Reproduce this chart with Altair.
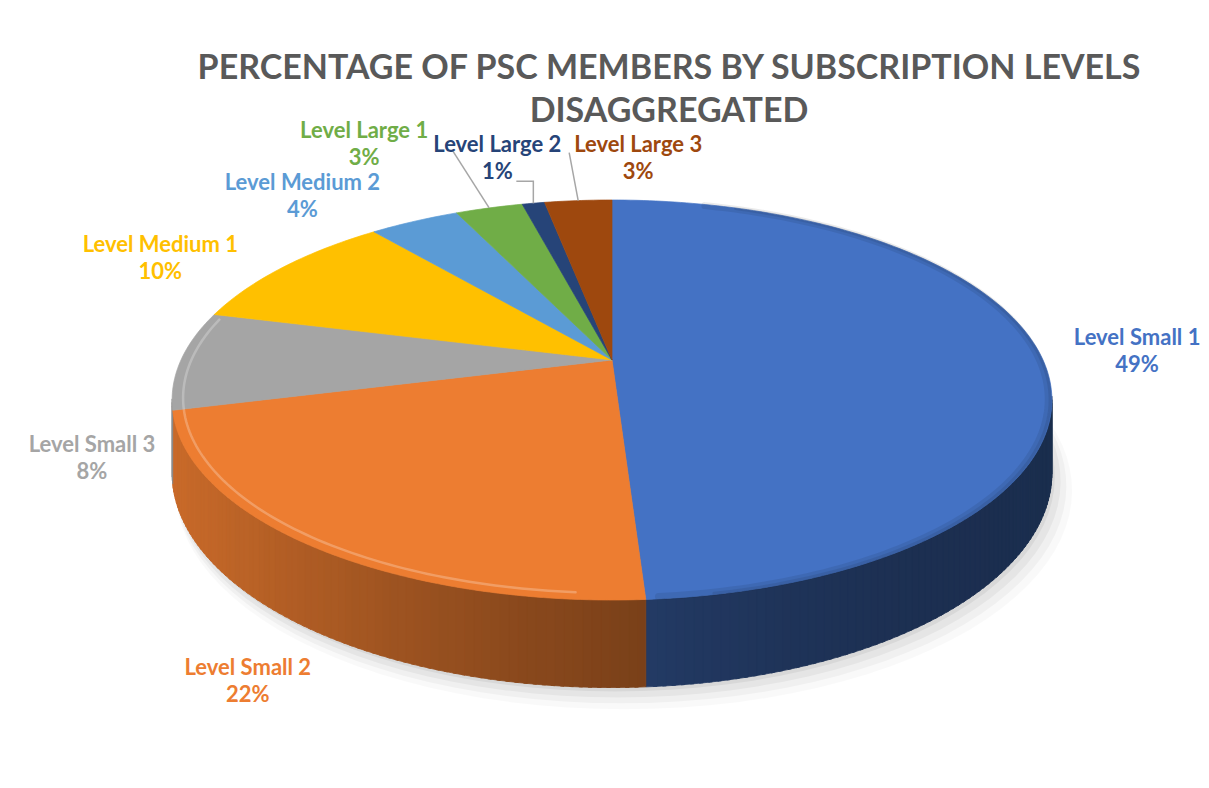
import altair as alt
import pandas as pd

# ---------------- data ----------------
categories = ["Level Small 1", "Level Small 2", "Level Small 3", "Level Medium 1",
              "Level Medium 2", "Level Large 1", "Level Large 2", "Level Large 3"]
percentages = [49, 22, 8, 10, 4, 3, 1, 3]
title_lines = ["PERCENTAGE OF PSC MEMBERS BY SUBSCRIPTION LEVELS", "DISAGGREGATED"]

# ---------------- styles / layout ----------------
palette = ["#4472C4", "#ED7D31", "#A5A5A5", "#FFC000",
           "#5B9BD5", "#70AD47", "#264478", "#9E480E"]
FONT = "Lato"
W, H = 1193, 772            # plot area = whole page area
CX, CY = 612, 360           # apex of the pie (screen px)
A, B, C = 431, 192, 0.2     # perspective ellipse parameters
D0 = 70                     # thickness of the pie
XL, XW = 172, 880           # horizontal extent used for side shading
NB = 90                     # number of shade steps

# label centre offsets from the rim point at the slice's mid angle
label_layout = {
    "Level Small 1": (97, -2),
    "Level Small 2": (-62, 137),
    "Level Small 3": (-89, 99),
    "Level Medium 1": (-123, -8),
    "Level Medium 2": (-112, -24),
    "Level Large 1": (-125, -63),
    "Level Large 2": (-36, -44),
    "Level Large 3": (60, -42),
}
# leader line end (offset from label centre), elbow flag
leader_layout = {
    "Level Large 1": (88, 5, 0),
    "Level Large 2": (19, 22, 1),
    "Level Large 3": (-69, -6, 0),
}

df = pd.DataFrame({"category": categories, "value": percentages,
                   "order": list(range(len(categories)))})
cats = list(label_layout)
layout_df = pd.DataFrame({
    "category": cats,
    "ldx": [label_layout[c][0] for c in cats],
    "ldy": [label_layout[c][1] for c in cats],
    "has_leader": [1 if c in leader_layout else 0 for c in cats],
    "edx": [leader_layout.get(c, (0, 0, 0))[0] for c in cats],
    "edy": [leader_layout.get(c, (0, 0, 0))[1] for c in cats],
    "elbow": [leader_layout.get(c, (0, 0, 0))[2] for c in cats],
})
title_df = pd.DataFrame({"line": title_lines, "row": list(range(len(title_lines)))})


def shade(hexc, f):
    r, g, b = int(hexc[1:3], 16), int(hexc[3:5], 16), int(hexc[5:7], 16)
    return "#%02x%02x%02x" % (round(r * f), round(g * f), round(b * f))


side_domain = [f"{c}|{b}" for c in categories for b in range(NB + 1)]
side_range = [shade(col, 0.40 + 0.45 * (1 - b / NB) ** 1.8)
              for col in palette for b in range(NB + 1)]

cat_scale = alt.Scale(domain=categories, range=palette)
side_scale = alt.Scale(domain=side_domain, range=side_range)
xs = alt.Scale(domain=[8, 8 + W], nice=False, zero=False)
ys = alt.Scale(domain=[8 + H, 8], nice=False, zero=False)


def X(f):
    return alt.X(f, type="quantitative", scale=xs, axis=None)


def Y(f):
    return alt.Y(f, type="quantitative", scale=ys, axis=None)


def ex_x(ang, r=1.0):
    return f"({CX} + {A}*{r}*sin({ang})/(1 + {C}*{r}*cos({ang})))"


def ex_y(ang, r=1.0):
    return f"({CY} - {B}*{r}*cos({ang})/(1 + {C}*{r}*cos({ang})))"


def ex_d(ang, r=1.0):
    return f"({D0}/(1 + {C}*{r}*cos({ang})))"


def base():
    return (alt.Chart(df)
            .transform_window(cum="sum(value)", sort=[alt.SortField("order")], frame=[None, 0])
            .transform_joinaggregate(total="sum(value)")
            .transform_calculate(a0="2*PI*(datum.cum - datum.value)/datum.total")
            .transform_calculate(a1="2*PI*datum.cum/datum.total")
            .transform_calculate(n="max(2, ceil(360*datum.value/datum.total))"))


# ---------------- shadow ----------------
def shadow(r, ox, oy, op):
    return (alt.Chart(alt.sequence(0, 361, 3, as_="t"))
            .transform_calculate(ang="datum.t*PI/180")
            .transform_calculate(px=f"{ex_x('datum.ang', r)} + {ox}",
                                 py=f"{ex_y('datum.ang', r)} + {ex_d('datum.ang', r)} + {oy}")
            .mark_line(interpolate="linear-closed", fill="black", fillOpacity=op, strokeWidth=0)
            .encode(x=X("px"), y=Y("py"), order=alt.Order("t:Q")))


shadows = [shadow(1.0, 3, 4, 0.05), shadow(1.006, 6, 8, 0.045),
           shadow(1.012, 9, 12, 0.035), shadow(1.018, 12, 16, 0.025)]

# ---------------- side walls ----------------
side = (base()
        .transform_calculate(j="sequence(0, datum.n)")
        .transform_flatten(["j"])
        .transform_calculate(step="(datum.a1 - datum.a0)/datum.n")
        .transform_calculate(mid="datum.a0 + datum.step*(datum.j + 0.5)")
        .transform_filter(f"cos(datum.mid) < {-C + 0.01}")
        .transform_calculate(q="[0, 1, 2, 3]")
        .transform_flatten(["q"])
        .transform_calculate(ang="clamp(datum.a0 + datum.step*(datum.j + ((datum.q == 1 || datum.q == 2) ? 1.2 : -0.2)), datum.a0, datum.a1)")
        .transform_calculate(px=ex_x("datum.ang"), ytop=ex_y("datum.ang"), dep=ex_d("datum.ang"))
        .transform_calculate(py="datum.q >= 2 ? datum.ytop + datum.dep : datum.ytop")
        .transform_calculate(tx=f"clamp(({ex_x('datum.mid')} - {XL})/{XW}, 0, 1)")
        .transform_calculate(key=f"datum.category + '|' + round(datum.tx*{NB})")
        .transform_calculate(seg="datum.category + '#' + datum.j")
        .mark_line(interpolate="linear-closed", strokeWidth=0.8)
        .encode(x=X("px"), y=Y("py"), order=alt.Order("q:Q"), detail="seg:N",
                fill=alt.Fill("key:N", scale=side_scale, legend=None),
                stroke=alt.Stroke("key:N", scale=side_scale, legend=None)))

# ---------------- top faces ----------------
top = (base()
       .transform_calculate(k="sequence(0, datum.n + 2)")
       .transform_flatten(["k"])
       .transform_calculate(ang="datum.a0 + (datum.a1 - datum.a0)*(datum.k - 1)/datum.n")
       .transform_calculate(px=f"datum.k == 0 ? {CX} : {ex_x('datum.ang')}",
                            py=f"datum.k == 0 ? {CY} : {ex_y('datum.ang')}")
       .mark_line(interpolate="linear-closed", strokeWidth=0.7, strokeJoin="round")
       .encode(x=X("px"), y=Y("py"), order=alt.Order("k:Q"), detail="category:N",
               fill=alt.Fill("category:N", scale=cat_scale, legend=None),
               stroke=alt.Stroke("category:N", scale=cat_scale, legend=None)))


# ---------------- bevel highlights ----------------
def rim_line(t0, t1, r, color, width, op):
    return (alt.Chart(alt.sequence(t0, t1, 1, as_="t"))
            .transform_calculate(ang="datum.t*PI/180")
            .transform_calculate(px=ex_x("datum.ang", r), py=ex_y("datum.ang", r))
            .mark_line(color=color, strokeWidth=width, opacity=op, strokeCap="round")
            .encode(x=X("px"), y=Y("py"), order=alt.Order("t:Q")))


bevels = [rim_line(184, 284, 0.976, "white", 2.5, 0.25),
          rim_line(15, 176, 0.992, "black", 7, 0.08),
          rim_line(20, 170, 0.996, "black", 3, 0.08)]

# ---------------- labels ----------------
lab = (base()
       .transform_lookup(lookup="category",
                         from_=alt.LookupData(layout_df, "category",
                                              ["ldx", "ldy", "has_leader", "edx", "edy", "elbow"]))
       .transform_calculate(mid="(datum.a0 + datum.a1)/2")
       .transform_calculate(rx=ex_x("datum.mid"), ry=ex_y("datum.mid"))
       .transform_calculate(lx="datum.rx + datum.ldx", ly="datum.ry + datum.ldy")
       .transform_calculate(pct="datum.value + '%'"))

name_text = lab.mark_text(font=FONT, fontSize=22, fontWeight="bold", dy=-14, baseline="middle").encode(
    x=X("lx"), y=Y("ly"), text="category:N",
    color=alt.Color("category:N", scale=cat_scale, legend=None))
pct_text = lab.mark_text(font=FONT, fontSize=22, fontWeight="bold", dy=13, baseline="middle").encode(
    x=X("lx"), y=Y("ly"), text="pct:N",
    color=alt.Color("category:N", scale=cat_scale, legend=None))

leaders = (lab.transform_filter("datum.has_leader == 1")
           .transform_calculate(ex="datum.lx + datum.edx", ey="datum.ly + datum.edy")
           .transform_calculate(p="[0, 1, 2]")
           .transform_flatten(["p"])
           .transform_calculate(qx="datum.p == 0 ? datum.rx : (datum.p == 1 ? (datum.elbow == 1 ? datum.rx : datum.ex) : datum.ex)",
                                qy="datum.p == 0 ? datum.ry : datum.ey")
           .mark_line(color="#a6a6a6", strokeWidth=1.5)
           .encode(x=X("qx"), y=Y("qy"), order=alt.Order("p:Q"), detail="category:N"))

# ---------------- title ----------------
title = (alt.Chart(title_df)
         .transform_calculate(tx="669", ty="69 + 43*datum.row")
         .mark_text(font=FONT, fontSize=34, fontWeight="bold", color="#595959", baseline="middle")
         .encode(x=X("tx"), y=Y("ty"), text="line:N"))

chart = (alt.layer(*shadows, side, top, *bevels, leaders, name_text, pct_text, title)
         .properties(width=W, height=H, autosize=alt.AutoSizeParams(type="none"), padding=0,
                     background="white")
         .resolve_scale(fill="independent", stroke="independent", color="independent")
         .configure_view(strokeWidth=0))

chart.save("out.html", embed_options={"renderer": "svg", "actions": False})
